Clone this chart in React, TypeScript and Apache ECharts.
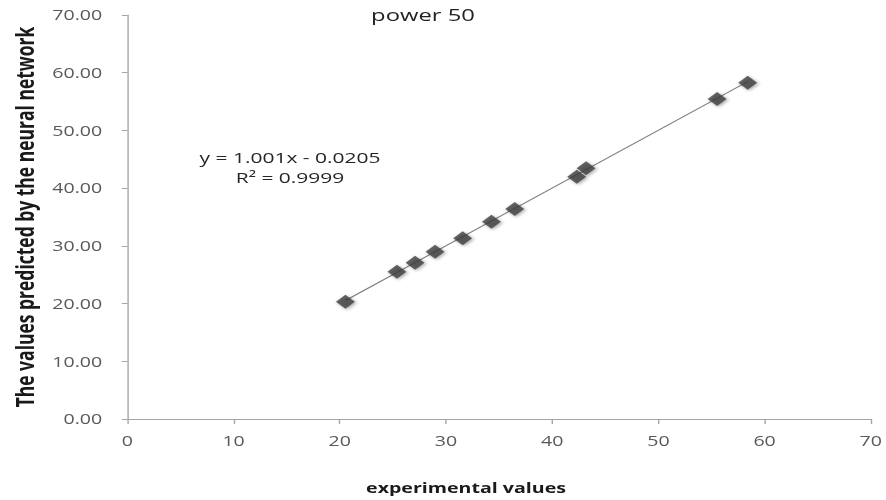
import React, { useEffect, useRef } from "react";
import * as echarts from "echarts";

const experimental = [20.53, 25.38, 27.09, 28.97, 31.57, 34.28, 36.47, 42.31, 43.19, 55.53, 58.41];
const predicted = [20.33, 25.52, 27.08, 28.99, 31.31, 34.19, 36.39, 41.99, 43.44, 55.45, 58.27];
const slope = 1.001;
const intercept = -0.0205;
const rSquared = "0.9999";
const titleText = "power 50";
const xName = "experimental values";
const yName = "The values predicted by the neural network";

// The reference picture is stretched horizontally; draw narrower and stretch.
const STRETCH = 1.4;
const W = 886 / STRETCH;

export default function App() {
  const ref = useRef<HTMLDivElement>(null);
  useEffect(() => {
    if (!ref.current) return;
    const chart = echarts.init(ref.current, null, { renderer: "svg" });
    const xmin = Math.min(...experimental);
    const xmax = Math.max(...experimental);
    const trend = [
      [xmin, slope * xmin + intercept],
      [xmax, slope * xmax + intercept],
    ];
    const font = "'Open Sans', 'DejaVu Sans', sans-serif";
    const hx = (v: number) => v / STRETCH;
    chart.setOption({
      animation: false,
      backgroundColor: "#ffffff",
      title: {
        text: titleText,
        left: hx(416),
        top: 1,
        textAlign: "center",
        textStyle: { fontFamily: font, fontSize: 17, fontWeight: "normal", color: "#222" },
      },
      grid: { left: hx(122), right: hx(14), top: 15, bottom: 81, containLabel: false },
      xAxis: {
        type: "value",
        min: 0,
        max: 70,
        interval: 10,
        axisLine: { show: true, lineStyle: { color: "#a6a6a6", width: 1 } },
        axisTick: { show: true, length: 5, lineStyle: { color: "#a6a6a6" } },
        splitLine: { show: false },
        axisLabel: { color: "#595959", fontSize: 14, fontFamily: font, margin: 15 },
      },
      yAxis: {
        type: "value",
        min: 0,
        max: 70,
        interval: 10,
        name: yName,
        nameLocation: "middle",
        nameGap: 65,
        nameTextStyle: { fontFamily: font, fontSize: 17.5, fontWeight: "bold", color: "#1a1a1a" },
        axisLine: { show: true, lineStyle: { color: "#a6a6a6", width: 1 } },
        axisTick: { show: true, length: 4, lineStyle: { color: "#a6a6a6" } },
        splitLine: { show: false },
        axisLabel: {
          color: "#595959",
          fontSize: 14,
          fontFamily: font,
          margin: 18,
          formatter: (v: number) => v.toFixed(2),
        },
      },
      graphic: [
        {
          type: "text",
          x: hx(466),
          y: 488,
          style: {
            text: xName,
            font: `bold 14px ${font}`,
            fill: "#1a1a1a",
            align: "center",
            verticalAlign: "middle",
          },
        },
        {
          type: "text",
          x: hx(290),
          y: 167,
          style: {
            text: `y = ${slope}x - ${Math.abs(intercept)}\nR² = ${rSquared}`,
            font: `15px ${font}`,
            fill: "#262626",
            align: "center",
            verticalAlign: "middle",
            lineHeight: 20,
          },
        },
      ],
      series: [
        {
          type: "line",
          data: trend,
          symbol: "none",
          lineStyle: { color: "#7f7f7f", width: 1 },
          z: 1,
          silent: true,
        },
        {
          type: "scatter",
          data: experimental.map((x, i) => [x, predicted[i]]),
          symbol: "diamond",
          symbolSize: [13.5, 14],
          itemStyle: {
            color: "#404040",
            shadowBlur: 3,
            shadowColor: "rgba(0,0,0,0.45)",
            shadowOffsetX: 1,
            shadowOffsetY: 1,
          },
          z: 2,
        },
      ],
    });
    return () => chart.dispose();
  }, []);
  return (
    <div
      ref={ref}
      style={{
        width: W,
        height: 500,
        position: "absolute",
        left: 0,
        top: 0,
        transform: `scaleX(${STRETCH})`,
        transformOrigin: "0 0",
      }}
    />
  );
}
